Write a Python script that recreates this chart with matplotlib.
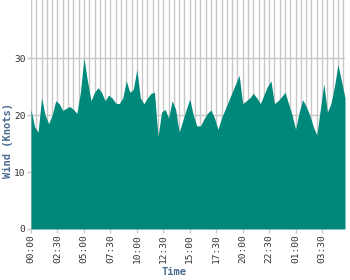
import matplotlib
matplotlib.use("Agg")
import matplotlib.pyplot as plt
import numpy as np

# Wind speed readings every 20 minutes, starting 00:00
wind_knots = [21, 18, 17, 23, 20, 18.5, 20, 22.5, 22, 20.8, 21.2, 21.5,
              21, 20.3, 24, 30, 26, 22.5, 24, 24.8, 24, 22.5, 23.5, 23,
              22.1, 22, 23, 26, 24, 24.5, 28, 23, 22, 23, 23.8, 24,
              16.2, 20.5, 21, 19.5, 22.5, 21, 17, 19, 21, 22.8, 20, 18.1,
              18.1, 19.3, 20.3, 20.9, 19.5, 17.5, 19.5, 21, 22.5, 24, 25.5, 27,
              22, 22.5, 23, 23.8, 23, 22, 23.5, 25, 26, 22, 22.5, 23.2,
              24, 22, 20, 17.5, 20.5, 22.7, 21.5, 20, 18, 16.5, 21, 25.5,
              20.5, 22, 25, 28.9, 26, 23]
step_minutes = 20
tick_labels = ["00:00", "02:30", "05:00", "07:30", "10:00", "12:30",
               "15:00", "17:30", "20:00", "22:30", "01:00", "03:30"]
y_ticks = [0, 10, 20, 30]

hours = np.arange(len(wind_knots)) * step_minutes / 60.0

fig = plt.figure(figsize=(3.5, 2.8), dpi=100)
ax = fig.add_axes([31/350, 1 - 229/280, (345-31)/350, 229/280])

fill_color = "#00897a"
grid_color = "#c8c8c8"
label_color = "#4a6a8f"

ax.fill_between(hours, 0, wind_knots, color=fill_color, lw=0, zorder=3)

ax.set_xlim(0, hours[-1])
ax.set_ylim(0, 40.2)

ax.set_xticks(np.arange(len(tick_labels)) * 2.5)
ax.set_xticklabels(tick_labels, rotation=90, family="DejaVu Sans Mono",
                   fontsize=6.8, color="#333333")
ax.set_xticks(np.arange(0, hours[-1] + 0.01, 0.5), minor=True)
ax.set_yticks(y_ticks)
ax.set_yticklabels([str(v) for v in y_ticks], family="DejaVu Sans Mono",
                   fontsize=6.8, color="#333333")

ax.grid(True, which="minor", axis="x", color=grid_color, lw=1, zorder=0)
ax.grid(True, which="major", axis="x", color=grid_color, lw=1, zorder=0)
ax.grid(True, which="major", axis="y", color=grid_color, lw=1, zorder=0)
ax.set_axisbelow(True)

ax.tick_params(axis="both", which="major", length=3, width=1, color=grid_color, pad=1)
ax.tick_params(axis="x", which="minor", length=0)

for s in ax.spines.values():
    s.set_visible(False)

fig.text(174/350, 1 - 272/280, "Time", ha="center", va="center",
         family="DejaVu Sans Mono", fontweight="bold", fontsize=7.5, color=label_color)
fig.text(7.5/350, 1 - 140/280, "Wind (Knots)", ha="center", va="center", rotation=90,
         family="DejaVu Sans Mono", fontweight="bold", fontsize=7.5, color=label_color)

fig.savefig("out.png", dpi=100)
